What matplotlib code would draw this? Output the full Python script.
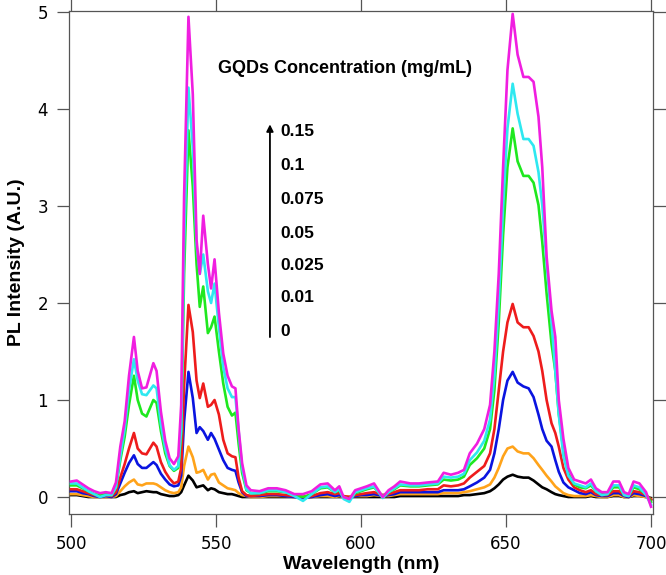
import matplotlib.pyplot as plt
import numpy as np

# wavelength grid (nm)
wavelength = [500, 502, 504, 506, 508, 510, 512, 514, 515.5, 517,
              518.5, 520, 521.7, 523, 524.5, 526, 528.4, 529.5, 531, 532.5,
              534, 535.5, 537, 538, 539, 540.5, 542, 543.3, 544.4, 545.6,
              547.2, 548.3, 549.5, 551, 552.5, 554, 555.5, 556.7, 557.8, 559,
              560.5, 562, 565, 568, 571, 574, 577, 580, 583, 586,
              588.5, 591, 592.5, 594, 596, 598, 600, 602, 604.5, 607.5,
              609.5, 611.5, 613.5, 617, 620, 623, 626.5, 628.5, 631, 633.5,
              635.5, 637.5, 640, 642.5, 644.5, 646, 647.5, 649, 650.5, 652.3,
              654, 656, 657.8, 659.5, 661.2, 662.5, 664, 665.7, 667, 668.2,
              669.8, 671.5, 673.5, 675.5, 677.5, 679.3, 681, 683, 685, 687,
              689, 690.7, 692.3, 694, 696, 698.3, 700]

pl_0 = [0.02, 0.02, 0.01, 0.0, 0.0, 0.0, 0.0, 0.0, 0.0, 0.02,
        0.03, 0.05, 0.06, 0.04, 0.05, 0.06, 0.05, 0.05, 0.03, 0.02,
        0.01, 0.01, 0.02, 0.05, 0.12, 0.22, 0.17, 0.1, 0.11, 0.12,
        0.07, 0.09, 0.08, 0.05, 0.04, 0.03, 0.03, 0.02, 0.01, 0.0,
        0.0, 0.0, 0.0, 0.0, 0.0, 0.0, 0.0, 0.0, 0.0, 0.0,
        0.0, 0.0, 0.0, 0.0, 0.0, 0.0, 0.0, 0.0, 0.0, 0.0,
        0.0, 0.0, 0.01, 0.01, 0.01, 0.01, 0.01, 0.01, 0.01, 0.01,
        0.02, 0.02, 0.03, 0.04, 0.06, 0.09, 0.13, 0.18, 0.21, 0.23,
        0.21, 0.2, 0.2, 0.17, 0.13, 0.1, 0.08, 0.05, 0.03, 0.02,
        0.01, 0.0, 0.0, 0.0, 0.0, 0.01, 0.0, 0.0, 0.0, 0.01,
        0.01, 0.0, 0.0, 0.01, 0.01, 0.0, -0.01]

pl_001 = [0.03, 0.03, 0.02, 0.01, 0.0, 0.0, 0.0, 0.0, 0.01, 0.06,
          0.11, 0.15, 0.18, 0.13, 0.12, 0.14, 0.14, 0.13, 0.1, 0.07,
          0.05, 0.04, 0.05, 0.1, 0.32, 0.52, 0.41, 0.25, 0.26, 0.28,
          0.18, 0.23, 0.24, 0.15, 0.12, 0.09, 0.08, 0.07, 0.04, 0.02,
          0.01, 0.0, 0.0, 0.01, 0.01, 0.01, 0.0, 0.0, 0.0, 0.01,
          0.01, 0.0, 0.01, 0.0, 0.0, 0.01, 0.01, 0.01, 0.02, 0.01,
          0.01, 0.02, 0.03, 0.03, 0.03, 0.03, 0.03, 0.04, 0.04, 0.04,
          0.05, 0.06, 0.08, 0.1, 0.13, 0.2, 0.3, 0.42, 0.5, 0.52,
          0.47, 0.45, 0.45, 0.4, 0.33, 0.28, 0.22, 0.16, 0.11, 0.08,
          0.04, 0.02, 0.01, 0.01, 0.01, 0.02, 0.01, 0.0, 0.0, 0.02,
          0.02, 0.0, 0.0, 0.02, 0.01, 0.0, -0.02]

pl_0025 = [0.06, 0.06, 0.04, 0.03, 0.01, 0.0, 0.01, 0.0, 0.03, 0.14,
           0.25, 0.35, 0.43, 0.34, 0.3, 0.3, 0.36, 0.33, 0.24, 0.18,
           0.13, 0.11, 0.12, 0.22, 0.78, 1.29, 1.02, 0.66, 0.72, 0.68,
           0.59, 0.66, 0.6, 0.49, 0.38, 0.3, 0.28, 0.27, 0.15, 0.05,
           0.01, 0.01, 0.01, 0.02, 0.02, 0.01, 0.0, -0.01, 0.0, 0.02,
           0.03, 0.01, 0.02, 0.0, -0.01, 0.01, 0.02, 0.02, 0.03, 0.01,
           0.02, 0.03, 0.05, 0.05, 0.05, 0.05, 0.05, 0.07, 0.07, 0.07,
           0.08, 0.11, 0.15, 0.2, 0.28, 0.45, 0.7, 1.0, 1.2, 1.29,
           1.18, 1.14, 1.12, 1.03, 0.85, 0.7, 0.58, 0.52, 0.38, 0.26,
           0.15, 0.1, 0.07, 0.04, 0.03, 0.05, 0.02, 0.01, 0.01, 0.04,
           0.04, 0.01, 0.0, 0.04, 0.03, 0.01, -0.03]

pl_005 = [0.08, 0.08, 0.06, 0.04, 0.02, 0.01, 0.02, 0.01, 0.05, 0.2,
          0.34, 0.5, 0.66, 0.5, 0.45, 0.44, 0.56, 0.52, 0.36, 0.26,
          0.19, 0.14, 0.16, 0.3, 1.15, 1.98, 1.7, 1.2, 1.02, 1.17,
          0.93, 0.95, 1.0, 0.85, 0.59, 0.45, 0.42, 0.41, 0.2, 0.06,
          0.02, 0.01, 0.02, 0.03, 0.03, 0.02, 0.01, 0.0, 0.01, 0.04,
          0.05, 0.03, 0.04, 0.01, 0.0, 0.02, 0.03, 0.04, 0.05, 0.02,
          0.03, 0.05, 0.07, 0.07, 0.07, 0.08, 0.08, 0.12, 0.11, 0.12,
          0.14, 0.2, 0.26, 0.32, 0.45, 0.7, 1.1, 1.5, 1.8, 1.99,
          1.8, 1.75, 1.75, 1.66, 1.5, 1.3, 1.0, 0.76, 0.66, 0.52,
          0.3, 0.18, 0.1, 0.07, 0.05, 0.07, 0.03, 0.02, 0.02, 0.06,
          0.06, 0.02, 0.01, 0.06, 0.05, 0.02, -0.03]

pl_0075 = [0.12, 0.12, 0.09, 0.06, 0.03, 0.02, 0.03, 0.02, 0.1, 0.38,
           0.62, 0.95, 1.25, 1.0, 0.86, 0.83, 1.0, 0.97, 0.68, 0.45,
           0.32, 0.27, 0.3, 0.65, 2.3, 3.78, 3.2, 2.4, 1.96, 2.17,
           1.69, 1.75, 1.86, 1.5, 1.17, 0.93, 0.84, 0.87, 0.55, 0.25,
           0.07, 0.04, 0.04, 0.06, 0.06, 0.05, 0.02, 0.0, 0.03, 0.09,
           0.1, 0.05, 0.07, 0.0, -0.02, 0.04, 0.06, 0.08, 0.1, 0.01,
           0.05, 0.08, 0.12, 0.11, 0.11, 0.12, 0.13, 0.18, 0.17, 0.18,
           0.21, 0.33, 0.4, 0.5, 0.7, 1.1, 1.8, 2.7, 3.4, 3.8,
           3.46, 3.31, 3.31, 3.24, 3.01, 2.63, 2.1, 1.58, 1.3, 0.86,
           0.48, 0.24, 0.13, 0.1, 0.09, 0.12, 0.06, 0.03, 0.03, 0.1,
           0.1, 0.03, 0.02, 0.1, 0.08, 0.03, -0.05]

pl_01 = [0.14, 0.14, 0.1, 0.06, 0.03, 0.0, 0.02, 0.02, 0.1, 0.42,
         0.7, 1.1, 1.42, 1.2, 1.06, 1.05, 1.15, 1.12, 0.75, 0.5,
         0.33, 0.28, 0.32, 0.7, 2.6, 4.22, 3.6, 2.6, 2.3, 2.5,
         2.12, 2.0, 2.2, 1.75, 1.34, 1.12, 1.03, 1.03, 0.68, 0.3,
         0.08, 0.04, 0.04, 0.07, 0.07, 0.05, 0.01, -0.04, 0.03, 0.1,
         0.11, 0.05, 0.08, -0.02, -0.05, 0.05, 0.07, 0.09, 0.11, -0.01,
         0.05, 0.09, 0.13, 0.12, 0.12, 0.13, 0.14, 0.21, 0.2, 0.21,
         0.24, 0.38, 0.46, 0.58, 0.8, 1.25, 2.0, 3.0, 3.8, 4.26,
         3.95, 3.69, 3.69, 3.62, 3.35, 3.01, 2.41, 1.8, 1.3, 0.85,
         0.42, 0.22, 0.14, 0.12, 0.1, 0.14, 0.06, 0.02, 0.03, 0.12,
         0.12, 0.02, 0.01, 0.12, 0.1, 0.02, -0.08]

pl_015 = [0.16, 0.17, 0.13, 0.09, 0.06, 0.04, 0.05, 0.04, 0.15, 0.52,
          0.78, 1.25, 1.65, 1.3, 1.12, 1.13, 1.38, 1.3, 0.88, 0.58,
          0.4, 0.34, 0.42, 0.95, 3.1, 4.95, 4.15, 2.65, 2.3, 2.9,
          2.4, 2.15, 2.45, 1.9, 1.48, 1.25, 1.14, 1.12, 0.7, 0.35,
          0.12, 0.07, 0.06, 0.09, 0.09, 0.07, 0.03, 0.03, 0.06, 0.13,
          0.14, 0.07, 0.11, 0.0, -0.02, 0.07, 0.09, 0.11, 0.14, 0.0,
          0.07, 0.11, 0.16, 0.14, 0.14, 0.15, 0.16, 0.25, 0.23, 0.25,
          0.28, 0.45, 0.55, 0.7, 0.95, 1.5, 2.3, 3.4, 4.4, 4.98,
          4.56, 4.33, 4.33, 4.28, 3.92, 3.4, 2.48, 1.92, 1.65, 1.0,
          0.6, 0.3, 0.18, 0.16, 0.14, 0.18, 0.09, 0.05, 0.05, 0.16,
          0.16, 0.05, 0.03, 0.16, 0.14, 0.05, -0.1]

conc_labels = ['0.15', '0.1', '0.075', '0.05', '0.025', '0.01', '0']
label_y = [3.77, 3.42, 3.07, 2.72, 2.39, 2.06, 1.71]

series = [pl_0, pl_001, pl_0025, pl_005, pl_0075, pl_01, pl_015]
colors = ['black', '#ffa31a', '#0a14e0', '#ee1c1c', '#1fe81f', '#2ee8f0', '#f01ee0']
order = [1, 2, 3, 4, 5, 6, 0]

fig = plt.figure(figsize=(6.66, 5.75), dpi=100)
ax = fig.add_axes([69 / 666, 61 / 575, 584 / 666, 503.5 / 575])

for i in order:
    ax.plot(wavelength, series[i], color=colors[i], lw=1.9, zorder=2 + i)

ax.set_xlim(499.31, 700.69)
ax.set_ylim(-0.175, 5.015)
ax.set_xticks([500, 550, 600, 650, 700])
ax.set_yticks([0, 1, 2, 3, 4, 5])

for s in ax.spines.values():
    s.set_color('#555555')
    s.set_linewidth(0.9)
ax.tick_params(direction='out', length=9, width=0.9, color='#555555',
               labelsize=12, top=True, right=True, labeltop=False, labelright=False,
               pad=6)

ax.set_xlabel('Wavelength (nm)', fontsize=14, fontweight='bold',
              family='Liberation Sans', labelpad=2)
ax.set_ylabel('PL Intensity (A.U.)', fontsize=14, fontweight='bold',
              family='Liberation Sans', labelpad=9)

ax.text(550.6, 4.42, 'GQDs Concentration (mg/mL)', fontsize=13, fontweight='bold',
        family='Liberation Sans', va='center', ha='left')
ax.annotate('', xy=(568.6, 3.87), xytext=(568.6, 1.62),
            arrowprops=dict(arrowstyle='-|>', color='black', lw=1.3,
                            mutation_scale=10))
for lab, yv in zip(conc_labels, label_y):
    ax.text(572.2, yv, lab, fontsize=12.5, fontweight='bold',
            family='Liberation Sans', va='center', ha='left')

fig.savefig('out.png', dpi=100)
